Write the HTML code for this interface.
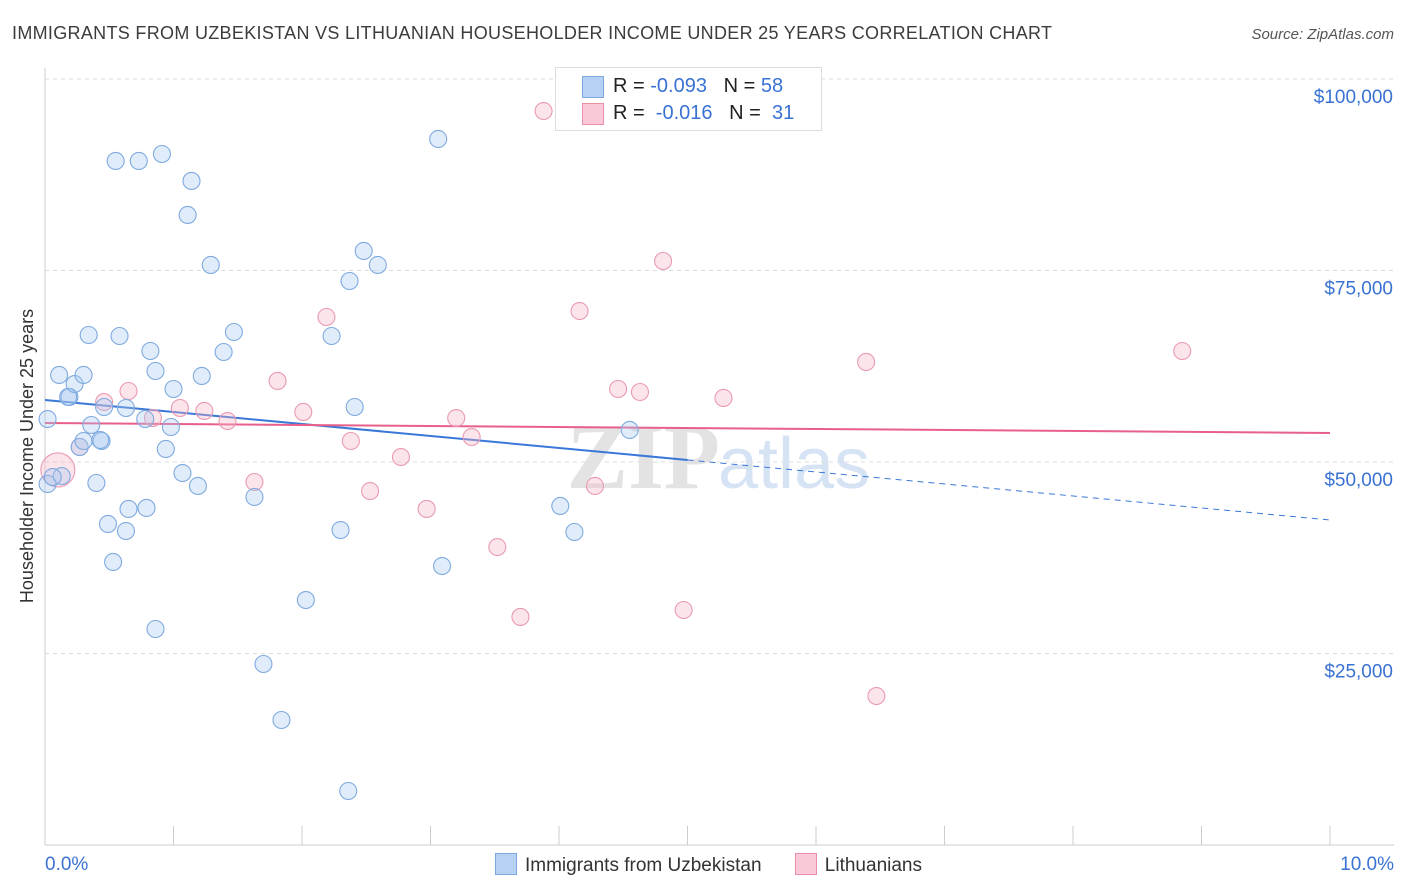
<!DOCTYPE html>
<html><head><meta charset="utf-8">
<style>
body{margin:0;background:#fff;font-family:"Liberation Sans",sans-serif;}
#wrap{position:relative;width:1406px;height:892px;overflow:hidden;}
</style></head>
<body>
<div id="wrap">
<svg id="svg" width="1406" height="892" xmlns="http://www.w3.org/2000/svg">
<text x="12" y="39" font-size="18" fill="#3c3c3c" textLength="1040" lengthAdjust="spacing">IMMIGRANTS FROM UZBEKISTAN VS LITHUANIAN HOUSEHOLDER INCOME UNDER 25 YEARS CORRELATION CHART</text>
<text x="1394" y="39" font-size="15" fill="#555" font-style="italic" text-anchor="end">Source: ZipAtlas.com</text>
<text x="720" y="488" font-size="92" fill="#e3e3e3" text-anchor="end" font-family="Liberation Serif" font-weight="bold">ZIP</text>
<text x="718" y="488" font-size="72" fill="#d6e3f4">atlas</text>
<text transform="translate(33,456) rotate(-90)" font-size="18" fill="#333" text-anchor="middle">Householder Income Under 25 years</text>
<g id="grid"></g><g id="axes"></g><g id="lines"></g><g id="pts"></g>
</svg>
<div style="position:absolute;left:555px;top:67px;width:265px;height:62px;border:1px solid #ddd;background:#fff;font-size:20px;color:#222;">
 <div style="position:absolute;left:26px;top:8px;width:20px;height:20px;background:#b7d1f5;border:1px solid #7aaae0"></div>
 <div style="position:absolute;left:57px;top:7px;">R = <span style="color:#3a72d4">-0.093</span>&nbsp;&nbsp;&nbsp;N = <span style="color:#3a72d4">58</span></div>
 <div style="position:absolute;left:26px;top:35px;width:20px;height:20px;background:#fac8d6;border:1px solid #e890aa"></div>
 <div style="position:absolute;left:57px;top:34px;">R = &nbsp;<span style="color:#3a72d4">-0.016</span>&nbsp;&nbsp;&nbsp;N = &nbsp;<span style="color:#3a72d4">31</span></div>
</div>
<div style="position:absolute;left:495px;top:853px;font-size:19px;color:#333;">
 <span style="display:inline-block;width:20px;height:20px;background:#b7d1f5;border:1px solid #7aaae0;vertical-align:-4px;margin-right:8px"></span><span>Immigrants from Uzbekistan</span>
 <span style="display:inline-block;width:20px;height:20px;background:#fac8d6;border:1px solid #e890aa;vertical-align:-4px;margin:0 8px 0 28px"></span><span>Lithuanians</span>
</div>
</div>
<script>
const yTicks=[25000,50000,75000,100000];
const yTickLabels=["$25,000","$50,000","$75,000","$100,000"];
const xTickLabels=["0.0%","10.0%"];
const blueX=[0.02,0.02,0.11,0.13,0.19,0.18,0.23,0.30,0.27,0.30,0.34,0.36,0.40,0.44,0.46,0.49,0.53,0.55,0.58,0.63,0.63,0.65,0.73,0.78,0.79,0.82,0.86,0.86,0.91,0.94,0.98,1.00,1.07,1.11,1.14,1.19,1.22,1.29,1.39,1.47,1.63,1.70,1.84,2.03,2.23,2.30,2.36,2.37,2.41,2.48,2.59,3.06,3.09,4.01,4.12,4.55,0.06,0.43];
const blueY=[47130,55610,61360,48170,58490,58490,60180,61360,51960,52740,66580,54830,47260,52740,57180,41910,36950,89300,66450,40990,57050,43870,89300,55610,44000,64490,28200,61880,90210,51700,54570,59530,48560,82250,86690,46870,61230,75720,64360,66970,45430,23630,16320,31980,66450,41120,7050,73630,57180,77550,75720,92170,36420,44260,40860,54180,48040,52870];
const pinkX=[0.10,0.27,0.46,0.65,0.84,1.05,1.24,1.42,1.63,1.81,2.01,2.19,2.38,2.53,2.77,2.97,3.20,3.32,3.52,3.70,3.88,4.16,4.28,4.46,4.63,4.81,4.97,5.28,6.39,6.47,8.85];
const pinkY=[48960,51960,57830,59270,55740,57050,56660,55350,47390,60580,56530,68930,52740,46210,50650,43870,55740,53260,38900,29770,95820,69710,46870,59530,59140,76240,30680,58360,63060,19450,64490];
const blueTrend=[58100,-1567]; // intercept, slope per %
const pinkTrend=[55090,-130];
const X=v=>45+v*128.5, Y=v=>845-v*191.5/25000;
const NS="http://www.w3.org/2000/svg";
function mk(tag,attrs,parent){const e=document.createElementNS(NS,tag);for(const k in attrs)e.setAttribute(k,attrs[k]);document.getElementById(parent).appendChild(e);return e;}
yTicks.forEach((t,i)=>{
 const g=mk('line',{x1:45,x2:1394,y1:Y(t),y2:Y(t),stroke:'#dcdcdc','stroke-dasharray':'4,4'},'grid');
 
 
 const l=mk('text',{x:1393,y:Y(t)+24,'font-size':19,fill:'#3a72d4','text-anchor':'end'},'axes');l.textContent=yTickLabels[i];
 
 
});
let a=mk('line',{x1:45,x2:45,y1:68,y2:845,stroke:'#ccc'},'axes');


a=mk('line',{x1:45,x2:1394,y1:845,y2:845,stroke:'#ccc'},'axes');


for(let i=0;i<=10;i++){const t=mk('line',{x1:X(i),x2:X(i),y1:826,y2:845,stroke:'#ccc'},'axes');
 
 }
[[0,45,'start'],[10,1394,'end']].forEach((d,i)=>{const l=mk('text',{x:d[1],y:870,'font-size':19,fill:'#3a72d4','text-anchor':d[2]},'axes');l.textContent=xTickLabels[i];
 
 });
function pts(xs,ys,fill,stroke,name){xs.forEach((x,i)=>{const c=mk('circle',{cx:X(x),cy:Y(ys[i]),r:(name==='pink-point'&&i===0)?17:8.5,fill:fill,'fill-opacity':0.35,stroke:stroke,'stroke-width':1.1},'pts');
 
 });}
pts(pinkX,pinkY,'#f5b3c7','#e99ab2','pink-point');
pts(blueX,blueY,'#a9c8f0','#7eaadf','blue-point');
const T=(tr,x)=>tr[0]+tr[1]*x;
let ln=mk('line',{x1:X(0),y1:Y(T(blueTrend,0)),x2:X(5),y2:Y(T(blueTrend,5)),stroke:'#3a78d8','stroke-width':2},'lines');


ln=mk('line',{x1:X(5),y1:Y(T(blueTrend,5)),x2:X(10),y2:Y(T(blueTrend,10)),stroke:'#3a78d8','stroke-width':1,'stroke-dasharray':'6,5'},'lines');


ln=mk('line',{x1:X(0),y1:Y(T(pinkTrend,0)),x2:X(10),y2:Y(T(pinkTrend,10)),stroke:'#e8608a','stroke-width':2},'lines');


</script>
</body></html>
